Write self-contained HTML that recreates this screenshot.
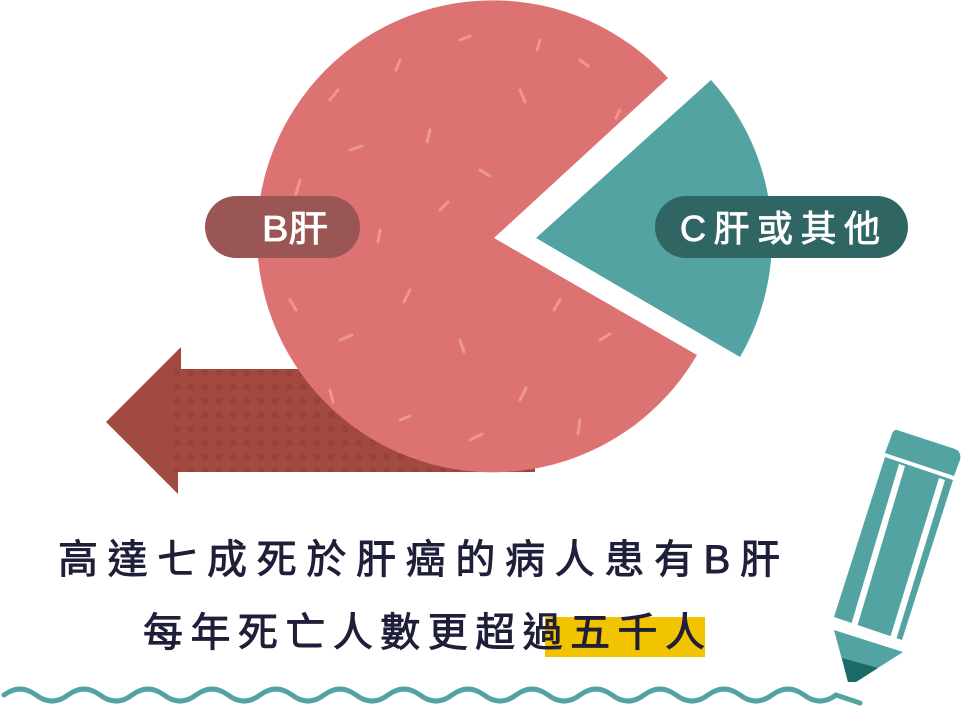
<!DOCTYPE html>
<html><head><meta charset="utf-8"><style>
html,body{margin:0;padding:0;background:#fff;width:962px;height:710px;overflow:hidden}
.t{font-family:"Liberation Sans","Noto Sans CJK TC",sans-serif}
</style></head><body>
<svg width="962" height="710" viewBox="0 0 962 710" xmlns="http://www.w3.org/2000/svg">
<defs>
<pattern id="dots" width="14" height="14" patternUnits="userSpaceOnUse" x="2" y="2">
<circle cx="7" cy="7" r="3.5" fill="#8f3c36" opacity="0.6"/>
</pattern>
</defs>
<polygon points="106,422 181,347 181,369 535,369 535,472 178,472 178,494" fill="#a34a40"/>
<polygon points="170,369 535,369 535,472 170,472" fill="url(#dots)"/>
<path d="M494,238 L668,78 A236,236 0 1,0 697,355 Z" fill="#dd7272"/>
<g stroke="#ec9a86" stroke-width="3" stroke-linecap="round" fill="none">
<path d="M330,100 l8,-10"/><path d="M400,60 l-4,10"/><path d="M460,40 l10,-4"/><path d="M520,90 l5,12"/>
<path d="M300,180 l-4,14"/><path d="M350,150 l12,-4"/><path d="M430,130 l-3,12"/><path d="M480,170 l10,6"/>
<path d="M290,300 l6,10"/><path d="M340,340 l12,-5"/><path d="M410,290 l-6,12"/><path d="M460,340 l4,12"/>
<path d="M330,390 l3,12"/><path d="M400,420 l10,-4"/><path d="M470,440 l12,-6"/><path d="M520,400 l6,-12"/>
<path d="M580,420 l-2,14"/><path d="M600,340 l10,-6"/><path d="M560,300 l-6,10"/><path d="M580,60 l8,6"/>
<path d="M380,230 l-2,12"/><path d="M440,210 l8,-8"/><path d="M540,40 l-3,10"/><path d="M620,110 l-4,8"/>
</g>
<path d="M536,238 L711,80 A236,236 0 0,1 740,357 Z" fill="#53a3a3"/>
<rect x="205" y="196" width="155" height="62" rx="31" fill="#9a5555"/>
<text x="262" y="241" class="t" font-size="36" fill="#fff" stroke="#fff" stroke-width="0.8" textLength="66" lengthAdjust="spacingAndGlyphs">B肝</text>
<rect x="655" y="196" width="253" height="62" rx="31" fill="#2f6663"/>
<text x="680" y="241" class="t" font-size="36" fill="#fff" stroke="#fff" stroke-width="0.8" textLength="200" lengthAdjust="spacing">C肝或其他</text>
<rect x="545" y="617" width="160" height="40" fill="#f2c400"/>
<g stroke="#1f1f3a" stroke-width="0.9">
<text x="58" y="573" class="t" font-size="40" fill="#1f1f3a" textLength="722" lengthAdjust="spacing">高達七成死於肝癌的病人患有B肝</text>
<text x="143" y="646" class="t" font-size="40" fill="#1f1f3a" textLength="562" lengthAdjust="spacing">每年死亡人數更超過五千人</text>
</g>
<path d="M4,695 q16,-12 32,0 t32,0 t32,0 t32,0 t32,0 t32,0 t32,0 t32,0 t32,0 t32,0 t32,0 t32,0 t32,0 t32,0 t32,0 t32,0 t32,0 t32,0 t32,0 t32,0 t32,0 t32,0 t32,0 t32,0 t32,0 t32,0 l24,8" stroke="#53a3a3" stroke-width="5" fill="none" stroke-linecap="round"/>
<g>
<path d="M897,430 L955,449 Q962,452 960,460 L954,476 L885,453 L891,437 Q893,429 897,430 Z" fill="#53a3a3"/>
<polygon points="885,457 953,480 902,640 834,617" fill="#53a3a3"/>
<polygon points="899,464 905,466 857,627 851,625" fill="#fff"/>
<polygon points="939,478 945,480 896,640 890,638" fill="#fff"/>
<polygon points="834,630 903,652 856,682 848,682" fill="#53a3a3"/>
<polygon points="842,658 878,668 856,682 848,682" fill="#1b6a68"/>
</g>
</svg>
</body></html>
